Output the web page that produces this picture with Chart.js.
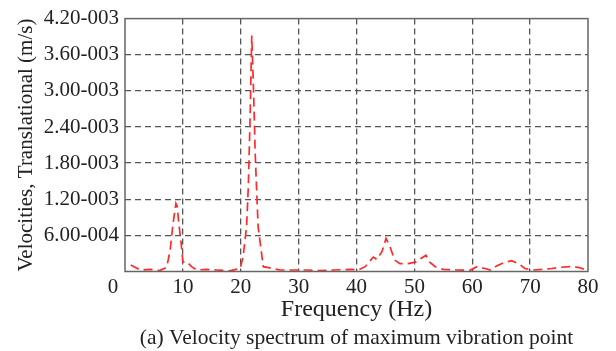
<!DOCTYPE html>
<html>
<head>
<meta charset="utf-8">
<script src="https://cdn.jsdelivr.net/npm/chart.js@4/dist/chart.umd.min.js"></script>
<style>
html,body{margin:0;padding:0;background:#fff;}
canvas{display:block;}
</style>
</head>
<body>
<canvas id="c" width="616" height="351"></canvas>
<script>
// Frequency (Hz)
const frequencies = [1.0,2.6,4.3,6.0,7.2,7.8,8.3,8.8,9.0,9.3,9.7,10.0,10.7,11.5,12.4,14.1,15.8,18.1,19.9,20.4,21.0,21.3,21.6,21.9,22.2,22.5,23.0,23.9,25.0,26.8,28.5,29.9,31.4,33.7,36.0,38.9,40.3,41.5,42.9,43.5,44.4,45.1,45.8,46.6,47.5,48.9,50.4,51.2,52.0,52.6,53.6,55.0,57.3,59.6,60.8,62.2,63.1,64.2,65.4,66.8,68.0,69.1,70.5,72.0,73.7,75.2,76.9,78.3,79.7];
// Velocity (m/s)
const velocities = [1.07e-4,2.5e-5,3.5e-5,1.5e-5,7.0e-5,3.5e-4,8.0e-4,1.13e-3,1.09e-3,8.0e-4,4.7e-4,1.6e-4,1.6e-4,8.0e-5,2.5e-5,3.5e-5,2.5e-5,1.0e-5,5.0e-5,2.4e-4,7.4e-4,1.39e-3,2.49e-3,3.92e-3,3.04e-3,1.95e-3,7.4e-4,8.0e-5,6.0e-5,2.5e-5,2.5e-5,2.5e-5,2.5e-5,1.5e-5,2.5e-5,3.5e-5,2.5e-5,8.0e-5,2.4e-4,2.0e-4,3.3e-4,5.5e-4,4.1e-4,1.9e-4,1.3e-4,1.3e-4,1.6e-4,2.2e-4,2.7e-4,1.6e-4,8.0e-5,3.5e-5,2.5e-5,2.0e-5,8.0e-5,5.0e-5,2.5e-5,9.0e-5,1.45e-4,1.8e-4,1.3e-4,5.0e-5,2.5e-5,3.5e-5,5.0e-5,7.0e-5,8.0e-5,7.0e-5,2.5e-5];
const xTicks = [0,10,20,30,40,50,60,70,80];
const yTicks = [0,6.0e-4,1.2e-3,1.8e-3,2.4e-3,3.0e-3,3.6e-3,4.2e-3];

const FONT = "'Liberation Serif','Times New Roman',serif";
const points = frequencies.map((f,i)=>({x:f,y:velocities[i]}));

function fmtSci(v){
  if (Math.abs(v) < 1e-12) return '';
  const s = v.toExponential(2);
  const [m,e] = s.split('e');
  const n = parseInt(e,10);
  const sign = n < 0 ? '-' : '+';
  return m + sign + String(Math.abs(n)).padStart(3,'0');
}

const boxPlugin = {
  id:'box',
  afterDraw(chart){
    const {ctx, chartArea:a, scales} = chart;
    ctx.save();
    ctx.strokeStyle = '#666';
    ctx.lineWidth = 1.5;
    ctx.setLineDash([]);
    ctx.strokeRect(a.left, a.top, a.right-a.left, a.bottom-a.top);
    // origin label
    ctx.fillStyle = '#222';
    ctx.font = '21px ' + FONT;
    ctx.textAlign = 'center';
    ctx.textBaseline = 'middle';
    ctx.fillText('0', scales.x.getPixelForValue(0) - 12, a.bottom + 16);
    ctx.restore();
  }
};

new Chart(document.getElementById('c'), {
  type:'line',
  data:{
    datasets:[{
      data: points,
      borderColor:'#ff2a2a',
      borderWidth:1.7,
      borderDash:[9,5],
      pointRadius:0,
      tension:0,
      fill:false
    }]
  },
  options:{
    responsive:false,
    animation:false,
    devicePixelRatio:1,
    layout:{padding:{top:16,right:28,left:0,bottom:0}},
    plugins:{
      legend:{display:false},
      tooltip:{enabled:false},
      title:{display:false}
    },
    scales:{
      x:{
        type:'linear',
        position:'bottom',
        weight:0,
        min:0,max:80,
        afterBuildTicks(s){ s.ticks = xTicks.map(v=>({value:v})); },
        afterFit(s){ s.height = 53; },
        ticks:{
          color:'#222',
          font:{family:FONT,size:21},
          padding:3,
          maxRotation:0,
          callback:(v)=> v===0 ? '' : String(v)
        },
        grid:{
          drawTicks:false,
          color:(c)=> (c.tick && (c.tick.value===0 || c.tick.value===80)) ? 'rgba(0,0,0,0)' : '#555',
          lineWidth:1.3
        },
        border:{display:false, dash:[6,4]},
        title:{
          display:true,
          text:'Frequency (Hz)',
          color:'#222',
          font:{family:FONT,size:24},
          padding:0
        }
      },
      x2:{
        type:'linear',
        axis:'x',
        position:'bottom',
        weight:1,
        min:0,max:80,
        afterFit(s){ s.height = 26.5; },
        ticks:{display:false},
        grid:{display:false, drawTicks:false},
        border:{display:false},
        title:{
          display:true,
          text:'(a) Velocity spectrum of maximum vibration point',
          color:'#222',
          font:{family:FONT,size:21.5},
          padding:0
        }
      },
      y:{
        type:'linear',
        min:0,max:4.2e-3,
        afterBuildTicks(s){ s.ticks = yTicks.map(v=>({value:v})); },
        afterFit(s){ s.width = 125; },
        ticks:{
          color:'#222',
          font:{family:FONT,size:21},
          padding:6,
          callback:(v)=> fmtSci(v)
        },
        grid:{
          drawTicks:false,
          color:(c)=> (c.tick && (c.tick.value===0 || Math.abs(c.tick.value-4.2e-3)<1e-9)) ? 'rgba(0,0,0,0)' : '#555',
          lineWidth:1.3
        },
        border:{display:false, dash:[6,4]},
        title:{
          display:true,
          text:'Velocities, Translational (m/s)',
          color:'#222',
          font:{family:FONT,size:21},
          padding:{top:14,bottom:0}
        }
      }
    }
  },
  plugins:[boxPlugin]
});
</script>
</body>
</html>
